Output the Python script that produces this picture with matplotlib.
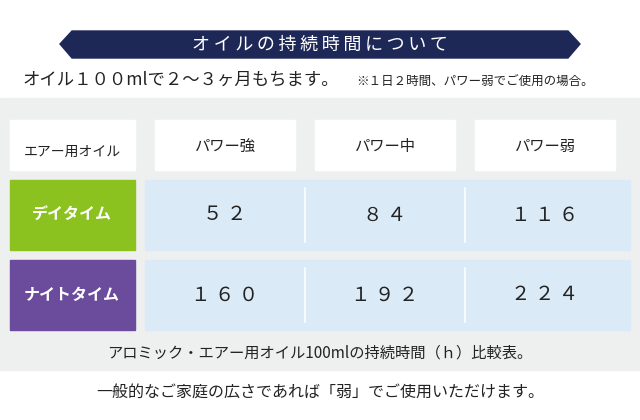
import matplotlib
matplotlib.use("Agg")
import matplotlib.pyplot as plt
from matplotlib.patches import Rectangle, Polygon

plt.rcParams["font.family"] = ["Noto Sans CJK JP", "DejaVu Sans"]

title = "オイルの持続時間について"
subtitle = "オイル１００mlで２～３ヶ月もちます。"
note = "※１日２時間、パワー弱でご使用の場合。"
corner = "エアー用オイル"
columns = ["パワー強", "パワー中", "パワー弱"]
rows = ["デイタイム", "ナイトタイム"]
hours = [["５２", "８４", "１１６"],
         ["１６０", "１９２", "２２４"]]
caption = "アロミック・エアー用オイル100mlの持続時間（ｈ）比較表。"
footer = "一般的なご家庭の広さであれば「弱」でご使用いただけます。"

row_colors = ["#8cc220", "#6a4b9c"]
navy = "#1e2857"
cell_blue = "#dbeaf7"
text_col = "#222222"

fig = plt.figure(figsize=(6.4, 4.2), dpi=100)
ax = fig.add_axes([0, 0, 1, 1])
ax.set_xlim(0, 640)
ax.set_ylim(420, 0)
ax.axis("off")

# banner
ax.add_patch(Polygon([(72, 31), (568, 31), (580, 44), (568, 58), (72, 58), (60, 44)],
                     closed=True, color=navy))
ax.text(320, 44.5, "\u2009".join(title), color="white", fontsize=13,
        ha="center", va="center", family=["DejaVu Sans", "Noto Sans CJK JP"] if False else None)

ax.text(22, 80, subtitle, color=text_col, fontsize=12.5, va="center")
ax.text(356, 81, note, color=text_col, fontsize=9, va="center")

# gray area
ax.add_patch(Rectangle((0, 98), 640, 272, color="#eef0f0"))

# header
ax.add_patch(Rectangle((10, 120), 125, 50, color="white"))
ax.text(72, 152, corner, fontsize=10, ha="center", va="center", color=text_col)
col_x = [155, 315, 475]
for x, name in zip(col_x, columns):
    ax.add_patch(Rectangle((x, 120), 140, 50, color="white"))
    ax.text(x + 70, 146, name, fontsize=11, ha="center", va="center", color=text_col)

# body
row_y = [180, 260]
for y, name, c, vals in zip(row_y, rows, row_colors, hours):
    ax.add_patch(Rectangle((10, y), 125, 70, color=c))
    ax.text(72, y + 35, name, fontsize=11.5, ha="center", va="center",
            color="white", fontweight="bold")
    ax.add_patch(Rectangle((145, y), 485, 70, color=cell_blue))
    for sx in (305, 465):
        ax.plot([sx, sx], [y + 8, y + 62], color="white", lw=1.2)
    for x, v in zip(col_x, vals):
        ax.text(x + 70, y + 35, " ".join(v), fontsize=14, ha="center",
                va="center", color=text_col)

ax.text(320, 353, caption, fontsize=11, ha="center", va="center", color=text_col)
ax.text(320, 392, footer, fontsize=11.5, ha="center", va="center", color=text_col)

fig.savefig("out.png", dpi=100)
